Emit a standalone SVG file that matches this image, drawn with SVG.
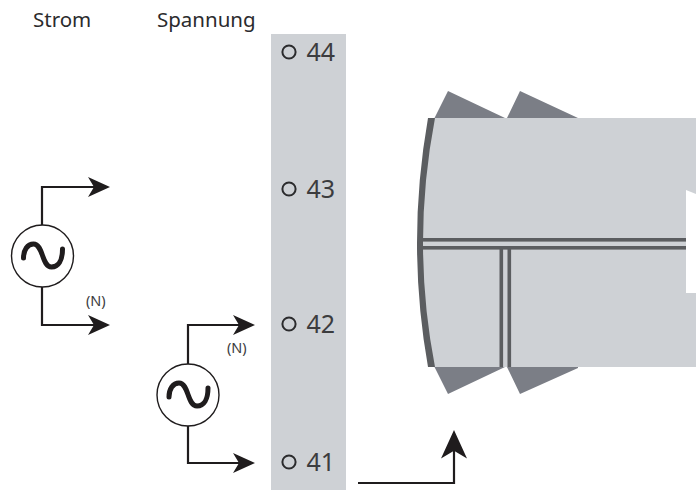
<svg xmlns="http://www.w3.org/2000/svg" width="696" height="490" viewBox="0 0 696 490">
<style>
text{font-family:"Noto Sans","Open Sans","Liberation Sans",sans-serif;fill:#3c3c3e}
.h{font-size:20.5px;fill:#2b2b2d}
.t{font-size:25px}
.n{font-size:14.500px}
.term{fill:none;stroke:#2b2b2d;stroke-width:2}
.wire{fill:none;stroke:#1f1c1d;stroke-width:2.2}
.src{fill:#fff;stroke:#1f1c1d;stroke-width:1.4}
.sine{fill:none;stroke:#1f1c1d;stroke-width:5;stroke-linecap:round}
.tooth{fill:#7b7e86}
.bar{fill:#5b5d60}
.head{fill:#1f1c1d}
</style>
<defs>
<path id="ah" class="head" d="M0 0L-22-10-16 0-22 10Z"/>
<g id="source"><circle class="src" r="31"/><path class="sine" d="M-19 2C-19-6-15-12-9-12C1-12-1 11 9 11C16 11 20 4 20-7"/></g>
</defs>
<g id="labels">
<text class="h" x="33" y="27">Strom</text>
<text class="h" x="157" y="27">Spannung</text>
</g>
<g id="terminal-strip">
<rect x="271" y="34" width="75" height="456" fill="#ced1d5"/>
<g id="t44"><circle class="term" cx="289" cy="52" r="6.600"/><text class="t" x="306.500" y="61">44</text></g>
<g id="t43"><circle class="term" cx="289" cy="189" r="6.600"/><text class="t" x="306.500" y="198">43</text></g>
<g id="t42"><circle class="term" cx="289" cy="324" r="6.600"/><text class="t" x="306.500" y="333">42</text></g>
<g id="t41"><circle class="term" cx="289" cy="462" r="6.600"/><text class="t" x="306.500" y="471">41</text></g>
</g>
<g id="device">
<path class="tooth" d="M434 119L448 91 505 118 507 118 520 91 578 118V368L520 394 507 367 505 367 448 394 434 366Z"/>
<path d="M429 118H696V194L686 190V293H696V367H429Q407 243 429 118Z" fill="#ced1d5"/>
<path fill="#5b5d60" d="M428 118H435Q411 243 435 367H428Q406 243 428 118Z"/>
<rect class="bar" x="423" y="238" width="263" height="3.600"/>
<rect class="bar" x="423" y="246" width="263" height="3.600"/>
<rect class="bar" x="499.500" y="249" width="3.600" height="118"/>
<rect class="bar" x="507.500" y="249" width="3.600" height="118"/>
</g>
<g id="connectors">
<path class="wire" d="M42 225V187H95M42 287V325H95"/>
<use href="#ah" x="110" y="187"/>
<use href="#ah" x="110" y="325"/>
<path class="wire" d="M188 364V325H240M188 426V463H240"/>
<use href="#ah" x="255" y="325"/>
<use href="#ah" x="255" y="463"/>
<path class="wire" d="M358 483H454V445"/>
<use href="#ah" transform="translate(454 430) rotate(-90) scale(1.3)"/>
</g>
<g id="source-current"><use href="#source" x="42.500" y="256"/><text class="n" x="86" y="306">(N)</text></g>
<g id="source-voltage"><use href="#source" x="188" y="395"/><text class="n" x="227" y="353">(N)</text></g>
</svg>
